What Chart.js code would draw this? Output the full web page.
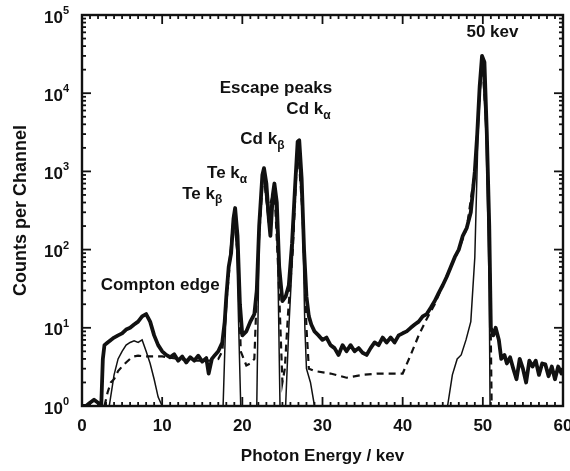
<!DOCTYPE html>
<html>
<head>
<meta charset="utf-8">
<script src="https://cdn.jsdelivr.net/npm/chart.js@4/dist/chart.umd.min.js"></script>
<style>
  html, body { margin: 0; background: #fff; }
  #wrap { width: 570px; height: 471px; }
</style>
</head>
<body>
<div id="wrap"><canvas id="spectrum"></canvas></div>
<script>
// measured spectrum (thick line)
const measuredE = [0, 0.5, 1, 1.5, 2, 2.4, 2.6, 2.8, 3.2, 3.6, 4, 4.5, 5, 5.5, 6, 6.5, 7, 7.5, 8, 8.5, 9, 9.5, 10,
  10.5, 11, 11.5, 12, 12.5, 13, 13.5, 14, 14.5, 15, 15.5, 15.8, 16.2, 16.6, 17, 17.5, 17.8, 18, 18.3, 18.6, 18.9, 19.1,
  19.4, 19.7, 20, 20.5, 21, 21.5, 21.8, 22.1, 22.5, 22.7, 23, 23.3, 23.5, 23.8, 24, 24.3, 24.6, 25, 25.4, 25.8, 26.2,
  26.6, 26.9, 27.1, 27.4, 27.7, 28, 28.3, 28.6, 29, 29.5, 30, 30.5, 31, 31.5, 32, 32.5, 33, 33.5, 34, 34.5, 35, 35.5,
  36, 36.5, 37, 37.5, 38, 38.5, 39, 39.5, 40, 40.5, 41, 41.5, 42, 42.5, 43, 43.5, 44, 44.5, 45, 45.5, 46, 46.5, 47,
  47.5, 48, 48.5, 49, 49.3, 49.6, 49.9, 50.2, 50.5, 50.8, 51, 51.3, 51.6, 52, 52.3, 52.7, 53, 53.4, 53.8, 54.2, 54.6,
  55, 55.4, 55.8, 56.2, 56.6, 57, 57.4, 57.8, 58.2, 58.6, 59, 59.4, 59.8, 60];
const measuredCounts = [1, 1, 1.1, 1.2, 1.1, 1, 4, 6, 6.5, 7, 7.5, 8, 8.5, 9.5, 10, 11, 12, 14, 15, 12, 8, 6, 5,
  4.5, 4.2, 4.6, 3.8, 4.3, 3.6, 4.2, 3.8, 4.4, 3.7, 4.1, 2.6, 4, 4.5, 5, 6.5, 12, 25, 60, 90, 250, 340,
  150, 20, 8, 9, 12, 15, 30, 200, 900, 1100, 700, 250, 150, 500, 700, 400, 60, 22, 25, 35, 120,
  700, 2400, 2500, 800, 100, 25, 14, 11, 9, 8, 7, 7.5, 6, 5.5, 4.5, 6, 5, 6, 5, 5.5, 4.8, 4.5,
  5.5, 6.5, 6, 7.5, 6.5, 7.5, 6.5, 8, 8.5, 9, 10, 11, 12, 14, 15, 18, 22, 28, 35, 45, 60, 80, 100,
  150, 190, 300, 1000, 3000, 12000, 30000, 25000, 3000, 200, 10, 8, 10, 7, 4, 4.5, 3.5, 4.2, 3, 2.2, 4,
  3, 2, 3.8, 3.2, 3.8, 2.5, 3.5, 3.4, 2.4, 3.2, 2.2, 3.2, 2.6, 3];

// full simulation (dashed line)
const simE = [2.8, 3.2, 3.6, 4, 4.5, 5, 5.5, 6, 6.5, 7, 8, 9, 10, 12, 14, 16, 17, 17.5, 18, 18.5, 19, 19.5, 19.8,
  20.5, 21, 21.5, 22, 22.6, 23.2, 24, 24.5, 25, 25.3, 25.7, 26.3, 26.9, 27.5, 28, 28.3, 29, 31, 33, 35, 37, 40,
  41, 42, 43, 44, 45, 46, 47, 48, 49, 49.9, 50.5, 50.9, 51.1];
const simCounts = [1, 1.5, 2, 2.2, 2.8, 3.2, 3.6, 4, 4.3, 4.4, 4.3, 4.3, 4.3, 4, 3.8, 3.8, 4, 5, 20, 80, 300, 60, 5,
  3.3, 3.5, 4, 100, 1000, 300, 600, 50, 2, 3, 15, 100, 2300, 300, 10, 3, 2.8, 2.6, 2.3, 2.5, 2.6, 2.6,
  4.5, 8, 13, 20, 35, 60, 100, 190, 1000, 30000, 3000, 50, 1];

// photopeak and escape components only (thin line)
const peakE = [3.4, 4, 4.5, 5, 5.5, 6, 6.5, 7, 7.5, 8, 8.5, 9, 9.5, 10, 17.6, 17.9, 18.3, 18.9, 19.3, 19.8, 21.8,
  22.1, 22.6, 23.2, 24, 24.4, 24.7, 25.4, 25.8, 26.3, 26.9, 27.5, 27.8, 28, 28.5, 29, 45.6, 46.2, 46.8, 47.3, 47.9,
  48.5, 49, 49.4, 49.9, 50.4, 50.8, 50.9];
const peakCounts = [1, 2.5, 4, 5, 6, 6.5, 6.8, 6.5, 7, 5, 3.5, 2.2, 1.3, 1, 1, 10, 60, 280, 100, 1, 1,
  150, 1000, 250, 600, 100, 1, 1, 10, 100, 2300, 300, 10, 3, 2, 1, 1, 2.5, 4, 4.5, 7,
  12, 80, 3000, 30000, 3000, 30, 1];

// annotations, anchored in data units (energy, counts)
const noteText = ['50 kev', 'Escape peaks', 'Cd k_α', 'Cd k_β', 'Te k_α', 'Te k_β', 'Compton edge'];
const noteE = [51.2, 24.2, 28.25, 22.5, 18.1, 15, 9.75];
const noteCounts = [60000, 11500, 6170, 2570, 933, 513, 35];

const yDecades = [0, 1, 2, 3, 4, 5];

const FONT = '"Liberation Sans", Arial, sans-serif';
const INK = '#111';

function pts(xs, ys) {
  return xs.map((x, i) => ({ x, y: ys[i] }));
}

function seg(ctx, x1, y1, x2, y2) {
  ctx.beginPath();
  ctx.moveTo(x1, y1);
  ctx.lineTo(x2, y2);
  ctx.stroke();
}

// frame, inward ticks on all four sides, y labels as 10^n, annotations
const framePlugin = {
  id: 'frame',
  afterDraw(chart) {
    const { ctx, chartArea: a, scales: { x, y } } = chart;
    ctx.save();
    ctx.strokeStyle = INK;
    ctx.fillStyle = INK;
    ctx.lineWidth = 2.4;
    ctx.strokeRect(a.left, a.top, a.right - a.left, a.bottom - a.top);

    ctx.lineWidth = 1.8;
    for (let e = 0; e <= 60; e++) {
      const px = x.getPixelForValue(e);
      const len = e % 10 === 0 ? 9 : 4;
      seg(ctx, px, a.bottom, px, a.bottom - len);
      seg(ctx, px, a.top, px, a.top + len);
    }
    for (let d = 0; d < 5; d++) {
      for (let m = 1; m <= 9; m++) {
        const py = y.getPixelForValue(m * Math.pow(10, d));
        const len = m === 1 ? 9 : 4;
        seg(ctx, a.left, py, a.left + len, py);
        seg(ctx, a.right, py, a.right - len, py);
      }
    }

    // y tick labels
    yDecades.forEach(d => {
      const py = y.getPixelForValue(Math.pow(10, d)) + 3;
      ctx.font = 'bold 17px ' + FONT;
      ctx.textBaseline = 'middle';
      ctx.textAlign = 'right';
      ctx.fillText('10', a.left - 19, py);
      ctx.font = 'bold 11px ' + FONT;
      ctx.textAlign = 'left';
      ctx.fillText(String(d), a.left - 19, py - 7);
    });

    // annotations with optional subscript after '_'
    ctx.textBaseline = 'middle';
    ctx.textAlign = 'left';
    noteText.forEach((t, i) => {
      const [main, sub] = t.split('_');
      ctx.font = 'bold 17px ' + FONT;
      const wMain = ctx.measureText(main).width;
      let wSub = 0;
      if (sub) {
        ctx.font = 'bold 12px ' + FONT;
        wSub = ctx.measureText(sub).width;
      }
      const cx = x.getPixelForValue(noteE[i]);
      const cy = y.getPixelForValue(noteCounts[i]);
      const left = cx - (wMain + wSub) / 2;
      ctx.font = 'bold 17px ' + FONT;
      ctx.fillText(main, left, cy);
      if (sub) {
        ctx.font = 'bold 12px ' + FONT;
        ctx.fillText(sub, left + wMain, cy + 6);
      }
    });
    ctx.restore();
  }
};

new Chart(document.getElementById('spectrum'), {
  type: 'line',
  data: {
    datasets: [
      {
        label: 'Photopeak + escape',
        data: pts(peakE, peakCounts),
        borderColor: INK,
        borderWidth: 1.5,
        pointRadius: 0,
        tension: 0,
        fill: false
      },
      {
        label: 'Simulation',
        data: pts(simE, simCounts),
        borderColor: INK,
        borderWidth: 2.2,
        borderDash: [7, 5],
        pointRadius: 0,
        tension: 0,
        fill: false
      },
      {
        label: 'Measured',
        data: pts(measuredE, measuredCounts),
        borderColor: INK,
        borderWidth: 3.8,
        borderJoinStyle: 'round',
        pointRadius: 0,
        tension: 0,
        fill: false
      }
    ]
  },
  options: {
    responsive: true,
    maintainAspectRatio: false,
    animation: false,
    layout: { padding: { top: 15, right: 7, left: 0, bottom: 0 } },
    plugins: { legend: { display: false }, tooltip: { enabled: false } },
    scales: {
      x: {
        type: 'linear',
        min: 0,
        max: 60,
        ticks: { stepSize: 10, color: INK, font: { family: FONT, size: 17, weight: 'bold' }, padding: 10 },
        grid: { display: false, drawTicks: false },
        border: { display: false },
        title: { display: true, text: 'Photon Energy / kev', color: INK, font: { family: FONT, size: 17, weight: 'bold' }, padding: { top: 8 } },
        afterFit(s) {
          s.height = 65;
          // let the "60" label run off the right edge like the original
          s.paddingLeft = 0;
          s.paddingRight = 0;
        }
      },
      y: {
        type: 'logarithmic',
        min: 1,
        max: 100000,
        ticks: { display: false },
        grid: { display: false, drawTicks: false },
        border: { display: false },
        title: { display: true, text: 'Counts per Channel', color: INK, font: { family: FONT, size: 18, weight: 'bold' }, padding: { top: 10 } },
        afterFit(s) { s.width = 82; }
      }
    }
  },
  plugins: [framePlugin]
});
</script>
</body>
</html>
